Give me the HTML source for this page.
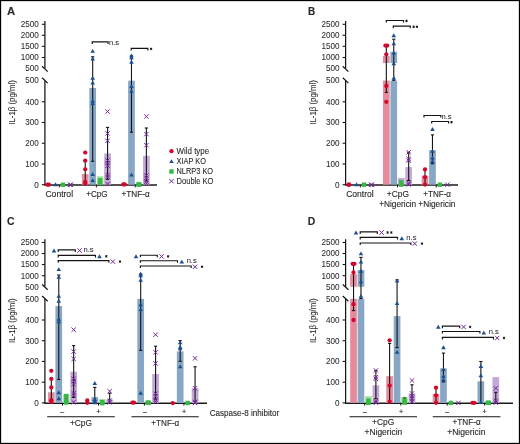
<!DOCTYPE html><html><head><meta charset="utf-8"><style>
html,body{margin:0;padding:0;background:#fff;}
svg{display:block;will-change:transform;font-family:"Liberation Sans",sans-serif;}
text{fill:#2a2a2a;stroke:#2a2a2a;stroke-width:0.12px;}
</style></head><body>
<svg width="520" height="444" viewBox="0 0 520 444">
<rect x="0" y="0" width="520" height="444" fill="#fff"/>
<text x="7.00" y="14.70" font-size="10.4" font-weight="bold" fill="#000" stroke="#000" stroke-width="0.35" transform="translate(7.00 0) scale(1.08 1) translate(-7.00 0)">A</text>
<path d="M44.90,21.00V68.40" stroke="#141414" stroke-width="1.25"/>
<path d="M44.90,80.80V184.90" stroke="#141414" stroke-width="1.25" fill="none"/>
<path d="M44.30,185.00H157.00" stroke="#1a1a1a" stroke-width="1.45" fill="none"/>
<path d="M42.10,66.30L47.70,71.60M42.10,77.80L47.70,83.10" stroke="#141414" stroke-width="1.2"/>
<path d="M41.90,24.30H44.90" stroke="#141414" stroke-width="1.1"/>
<text x="38.80" y="27.30" font-size="9.3" text-anchor="end" style="stroke-width:0.06px" transform="translate(38.80 0) scale(0.875 1) translate(-38.80 0)">2500</text>
<path d="M41.90,35.30H44.90" stroke="#141414" stroke-width="1.1"/>
<text x="38.80" y="38.30" font-size="9.3" text-anchor="end" style="stroke-width:0.06px" transform="translate(38.80 0) scale(0.875 1) translate(-38.80 0)">2000</text>
<path d="M41.90,46.30H44.90" stroke="#141414" stroke-width="1.1"/>
<text x="38.80" y="49.30" font-size="9.3" text-anchor="end" style="stroke-width:0.06px" transform="translate(38.80 0) scale(0.875 1) translate(-38.80 0)">1500</text>
<path d="M41.90,57.50H44.90" stroke="#141414" stroke-width="1.1"/>
<text x="38.80" y="60.50" font-size="9.3" text-anchor="end" style="stroke-width:0.06px" transform="translate(38.80 0) scale(0.875 1) translate(-38.80 0)">1000</text>
<text x="38.80" y="71.40" font-size="9.3" text-anchor="end" style="stroke-width:0.06px" transform="translate(38.80 0) scale(0.875 1) translate(-38.80 0)">500</text>
<text x="38.80" y="83.40" font-size="9.3" text-anchor="end" style="stroke-width:0.06px" transform="translate(38.80 0) scale(0.875 1) translate(-38.80 0)">500</text>
<path d="M41.90,101.80H44.90" stroke="#141414" stroke-width="1.1"/>
<text x="38.80" y="104.80" font-size="9.3" text-anchor="end" style="stroke-width:0.06px" transform="translate(38.80 0) scale(0.875 1) translate(-38.80 0)">400</text>
<path d="M41.90,122.50H44.90" stroke="#141414" stroke-width="1.1"/>
<text x="38.80" y="125.50" font-size="9.3" text-anchor="end" style="stroke-width:0.06px" transform="translate(38.80 0) scale(0.875 1) translate(-38.80 0)">300</text>
<path d="M41.90,143.25H44.90" stroke="#141414" stroke-width="1.1"/>
<text x="38.80" y="146.25" font-size="9.3" text-anchor="end" style="stroke-width:0.06px" transform="translate(38.80 0) scale(0.875 1) translate(-38.80 0)">200</text>
<path d="M41.90,164.00H44.90" stroke="#141414" stroke-width="1.1"/>
<text x="38.80" y="167.00" font-size="9.3" text-anchor="end" style="stroke-width:0.06px" transform="translate(38.80 0) scale(0.875 1) translate(-38.80 0)">100</text>
<path d="M41.90,184.70H44.90" stroke="#141414" stroke-width="1.1"/>
<text x="38.80" y="187.70" font-size="9.3" text-anchor="end" style="stroke-width:0.06px" transform="translate(38.80 0) scale(0.875 1) translate(-38.80 0)">0</text>
<text x="-6.80" y="102.40" font-size="8.3" textLength="44.6" lengthAdjust="spacingAndGlyphs" style="stroke-width:0.08px" transform="rotate(-90 15.50 102.40)">IL-1β (pg/ml)</text>
<circle cx="47.33" cy="184.70" r="2.15" fill="#d3062c"/>
<circle cx="48.92" cy="184.70" r="2.15" fill="#d3062c"/>
<path d="M53.27,186.25L55.57,182.35L57.87,186.25Z" fill="#1b4f8e"/>
<rect x="60.82" y="182.50" width="4.4" height="4.4" fill="#35b844"/>
<path d="M67.82,182.60L72.22,187.00M72.22,182.60L67.82,187.00" stroke="#722896" stroke-width="1.0" fill="none"/>
<path d="M68.72,182.60L73.12,187.00M73.12,182.60L68.72,187.00" stroke="#722896" stroke-width="1.0" fill="none"/>
<rect x="81.88" y="174.10" width="6.7" height="10.60" fill="#e68b9d"/>
<rect x="89.33" y="87.90" width="6.7" height="96.80" fill="#87a7c5"/>
<rect x="96.78" y="176.20" width="6.7" height="8.50" fill="#a9e2a6"/>
<rect x="104.23" y="153.50" width="6.7" height="31.20" fill="#c4a9d6"/>
<path d="M85.23,160.70V184.70" stroke="#141414" stroke-width="1.1"/>
<path d="M83.63,160.70H86.83" stroke="#141414" stroke-width="1.1"/>
<circle cx="85.23" cy="152.60" r="2.15" fill="#d3062c"/>
<circle cx="85.23" cy="160.70" r="2.15" fill="#d3062c"/>
<circle cx="85.23" cy="169.30" r="2.15" fill="#d3062c"/>
<circle cx="85.23" cy="182.00" r="2.15" fill="#d3062c"/>
<circle cx="85.23" cy="183.70" r="2.15" fill="#d3062c"/>
<path d="M92.68,56.80V161.30" stroke="#141414" stroke-width="1.1"/>
<path d="M91.08,56.80H94.28" stroke="#141414" stroke-width="1.1"/>
<path d="M91.08,161.30H94.28" stroke="#141414" stroke-width="1.1"/>
<path d="M90.38,52.85L92.68,48.95L94.98,52.85Z" fill="#1b4f8e"/>
<path d="M90.38,60.45L92.68,56.55L94.98,60.45Z" fill="#1b4f8e"/>
<path d="M90.38,79.65L92.68,75.75L94.98,79.65Z" fill="#1b4f8e"/>
<path d="M90.38,84.45L92.68,80.55L94.98,84.45Z" fill="#1b4f8e"/>
<path d="M90.38,102.55L92.68,98.65L94.98,102.55Z" fill="#1b4f8e"/>
<path d="M90.38,104.95L92.68,101.05L94.98,104.95Z" fill="#1b4f8e"/>
<path d="M90.38,175.95L92.68,172.05L94.98,175.95Z" fill="#1b4f8e"/>
<path d="M90.38,182.05L92.68,178.15L94.98,182.05Z" fill="#1b4f8e"/>
<rect x="97.92" y="178.10" width="4.4" height="4.4" fill="#35b844"/>
<rect x="97.92" y="180.40" width="4.4" height="4.4" fill="#35b844"/>
<path d="M107.58,127.40V179.30" stroke="#141414" stroke-width="1.1"/>
<path d="M105.98,127.40H109.17" stroke="#141414" stroke-width="1.1"/>
<path d="M105.98,179.30H109.17" stroke="#141414" stroke-width="1.1"/>
<path d="M105.38,109.30L109.78,113.70M109.78,109.30L105.38,113.70" stroke="#722896" stroke-width="1.0" fill="none"/>
<path d="M105.38,131.20L109.78,135.60M109.78,131.20L105.38,135.60" stroke="#722896" stroke-width="1.0" fill="none"/>
<path d="M105.38,138.60L109.78,143.00M109.78,138.60L105.38,143.00" stroke="#722896" stroke-width="1.0" fill="none"/>
<path d="M105.38,158.30L109.78,162.70M109.78,158.30L105.38,162.70" stroke="#722896" stroke-width="1.0" fill="none"/>
<path d="M105.38,160.80L109.78,165.20M109.78,160.80L105.38,165.20" stroke="#722896" stroke-width="1.0" fill="none"/>
<path d="M105.38,163.60L109.78,168.00M109.78,163.60L105.38,168.00" stroke="#722896" stroke-width="1.0" fill="none"/>
<path d="M105.38,172.80L109.78,177.20M109.78,172.80L105.38,177.20" stroke="#722896" stroke-width="1.0" fill="none"/>
<path d="M105.38,174.80L109.78,179.20M109.78,174.80L105.38,179.20" stroke="#722896" stroke-width="1.0" fill="none"/>
<path d="M105.38,181.80L109.78,186.20M109.78,181.80L105.38,186.20" stroke="#722896" stroke-width="1.0" fill="none"/>
<rect x="128.12" y="80.70" width="6.7" height="104.00" fill="#87a7c5"/>
<rect x="143.03" y="155.80" width="6.7" height="28.90" fill="#c4a9d6"/>
<circle cx="123.27" cy="184.40" r="2.15" fill="#d3062c"/>
<circle cx="124.77" cy="184.40" r="2.15" fill="#d3062c"/>
<path d="M131.47,55.80V132.20" stroke="#141414" stroke-width="1.1"/>
<path d="M129.88,55.80H133.07" stroke="#141414" stroke-width="1.1"/>
<path d="M129.88,132.20H133.07" stroke="#141414" stroke-width="1.1"/>
<path d="M129.17,57.35L131.47,53.45L133.78,57.35Z" fill="#1b4f8e"/>
<path d="M129.17,59.15L131.47,55.25L133.78,59.15Z" fill="#1b4f8e"/>
<path d="M129.17,63.65L131.47,59.75L133.78,63.65Z" fill="#1b4f8e"/>
<path d="M129.17,88.05L131.47,84.15L133.78,88.05Z" fill="#1b4f8e"/>
<path d="M129.17,92.85L131.47,88.95L133.78,92.85Z" fill="#1b4f8e"/>
<path d="M129.17,176.45L131.47,172.55L133.78,176.45Z" fill="#1b4f8e"/>
<rect x="136.22" y="182.30" width="4.4" height="4.4" fill="#35b844"/>
<rect x="137.22" y="182.30" width="4.4" height="4.4" fill="#35b844"/>
<path d="M146.38,128.00V181.00" stroke="#141414" stroke-width="1.1"/>
<path d="M144.78,128.00H147.97" stroke="#141414" stroke-width="1.1"/>
<path d="M144.78,181.00H147.97" stroke="#141414" stroke-width="1.1"/>
<path d="M144.18,114.30L148.57,118.70M148.57,114.30L144.18,118.70" stroke="#722896" stroke-width="1.0" fill="none"/>
<path d="M144.18,131.90L148.57,136.30M148.57,131.90L144.18,136.30" stroke="#722896" stroke-width="1.0" fill="none"/>
<path d="M144.18,143.00L148.57,147.40M148.57,143.00L144.18,147.40" stroke="#722896" stroke-width="1.0" fill="none"/>
<path d="M144.18,173.30L148.57,177.70M148.57,173.30L144.18,177.70" stroke="#722896" stroke-width="1.0" fill="none"/>
<path d="M144.18,175.60L148.57,180.00M148.57,175.60L144.18,180.00" stroke="#722896" stroke-width="1.0" fill="none"/>
<path d="M144.18,179.40L148.57,183.80M148.57,179.40L144.18,183.80" stroke="#722896" stroke-width="1.0" fill="none"/>
<path d="M144.18,181.30L148.57,185.70M148.57,181.30L144.18,185.70" stroke="#722896" stroke-width="1.0" fill="none"/>
<path d="M59.30,185.20V187.40" stroke="#141414" stroke-width="1.0"/>
<path d="M96.40,185.20V187.40" stroke="#141414" stroke-width="1.0"/>
<path d="M135.20,185.20V187.40" stroke="#141414" stroke-width="1.0"/>
<text x="45.45" y="197.30" font-size="8.4" textLength="27.60" lengthAdjust="spacingAndGlyphs" >Control</text>
<text x="86.15" y="197.00" font-size="8.2" textLength="21.60" lengthAdjust="spacingAndGlyphs" >+CpG</text>
<text x="121.45" y="197.00" font-size="8.2" textLength="28.20" lengthAdjust="spacingAndGlyphs" >+TNF-α</text>
<path d="M92.20,43.90V41.80H108.10V43.90" stroke="#141414" stroke-width="1.15" fill="none"/>
<text x="109.05" y="44.60" font-size="7.3" textLength="10.10" lengthAdjust="spacingAndGlyphs" style="stroke-width:0.05px">n.s</text>
<path d="M131.20,50.50V48.40H147.90V50.50" stroke="#141414" stroke-width="1.15" fill="none"/>
<path d="M151.10,47.65L151.10,50.15M152.18,48.27L150.02,49.52M152.18,49.52L150.02,48.27" stroke="#141414" stroke-width="0.95" fill="none"/>
<circle cx="171.50" cy="151.20" r="2.15" fill="#d3062c"/>
<path d="M169.20,163.05L171.50,159.15L173.80,163.05Z" fill="#1b4f8e"/>
<rect x="169.30" y="169.30" width="4.4" height="4.4" fill="#35b844"/>
<path d="M169.30,179.00L173.70,183.40M173.70,179.00L169.30,183.40" stroke="#722896" stroke-width="1.0" fill="none"/>
<text x="176.55" y="153.95" font-size="9.0" textLength="32.60" lengthAdjust="spacingAndGlyphs" style="stroke-width:0.1px">Wild type</text>
<text x="176.55" y="164.25" font-size="9.0" textLength="29.40" lengthAdjust="spacingAndGlyphs" style="stroke-width:0.1px">XIAP KO</text>
<text x="176.55" y="174.25" font-size="9.0" textLength="36.50" lengthAdjust="spacingAndGlyphs" style="stroke-width:0.1px">NLRP3 KO</text>
<text x="176.55" y="183.95" font-size="9.0" textLength="36.90" lengthAdjust="spacingAndGlyphs" style="stroke-width:0.1px">Double KO</text>
<text x="307.90" y="14.70" font-size="10.4" font-weight="bold" fill="#000" stroke="#000" stroke-width="0.35" transform="translate(307.90 0) scale(0.96 1) translate(-307.90 0)">B</text>
<path d="M345.60,21.00V68.40" stroke="#141414" stroke-width="1.25"/>
<path d="M345.60,80.80V184.90" stroke="#141414" stroke-width="1.25" fill="none"/>
<path d="M345.00,185.00H458.00" stroke="#1a1a1a" stroke-width="1.45" fill="none"/>
<path d="M342.80,66.30L348.40,71.60M342.80,77.80L348.40,83.10" stroke="#141414" stroke-width="1.2"/>
<path d="M342.60,24.30H345.60" stroke="#141414" stroke-width="1.1"/>
<text x="339.50" y="27.30" font-size="9.3" text-anchor="end" style="stroke-width:0.06px" transform="translate(339.50 0) scale(0.875 1) translate(-339.50 0)">2500</text>
<path d="M342.60,35.30H345.60" stroke="#141414" stroke-width="1.1"/>
<text x="339.50" y="38.30" font-size="9.3" text-anchor="end" style="stroke-width:0.06px" transform="translate(339.50 0) scale(0.875 1) translate(-339.50 0)">2000</text>
<path d="M342.60,46.30H345.60" stroke="#141414" stroke-width="1.1"/>
<text x="339.50" y="49.30" font-size="9.3" text-anchor="end" style="stroke-width:0.06px" transform="translate(339.50 0) scale(0.875 1) translate(-339.50 0)">1500</text>
<path d="M342.60,57.50H345.60" stroke="#141414" stroke-width="1.1"/>
<text x="339.50" y="60.50" font-size="9.3" text-anchor="end" style="stroke-width:0.06px" transform="translate(339.50 0) scale(0.875 1) translate(-339.50 0)">1000</text>
<text x="339.50" y="71.40" font-size="9.3" text-anchor="end" style="stroke-width:0.06px" transform="translate(339.50 0) scale(0.875 1) translate(-339.50 0)">500</text>
<text x="339.50" y="83.40" font-size="9.3" text-anchor="end" style="stroke-width:0.06px" transform="translate(339.50 0) scale(0.875 1) translate(-339.50 0)">500</text>
<path d="M342.60,101.80H345.60" stroke="#141414" stroke-width="1.1"/>
<text x="339.50" y="104.80" font-size="9.3" text-anchor="end" style="stroke-width:0.06px" transform="translate(339.50 0) scale(0.875 1) translate(-339.50 0)">400</text>
<path d="M342.60,122.50H345.60" stroke="#141414" stroke-width="1.1"/>
<text x="339.50" y="125.50" font-size="9.3" text-anchor="end" style="stroke-width:0.06px" transform="translate(339.50 0) scale(0.875 1) translate(-339.50 0)">300</text>
<path d="M342.60,143.25H345.60" stroke="#141414" stroke-width="1.1"/>
<text x="339.50" y="146.25" font-size="9.3" text-anchor="end" style="stroke-width:0.06px" transform="translate(339.50 0) scale(0.875 1) translate(-339.50 0)">200</text>
<path d="M342.60,164.00H345.60" stroke="#141414" stroke-width="1.1"/>
<text x="339.50" y="167.00" font-size="9.3" text-anchor="end" style="stroke-width:0.06px" transform="translate(339.50 0) scale(0.875 1) translate(-339.50 0)">100</text>
<path d="M342.60,184.70H345.60" stroke="#141414" stroke-width="1.1"/>
<text x="339.50" y="187.70" font-size="9.3" text-anchor="end" style="stroke-width:0.06px" transform="translate(339.50 0) scale(0.875 1) translate(-339.50 0)">0</text>
<text x="293.90" y="102.40" font-size="8.3" textLength="44.6" lengthAdjust="spacingAndGlyphs" style="stroke-width:0.08px" transform="rotate(-90 316.20 102.40)">IL-1β (pg/ml)</text>
<circle cx="348.82" cy="184.70" r="2.4" fill="#d3062c"/>
<path d="M354.27,186.25L356.57,182.35L358.88,186.25Z" fill="#1b4f8e"/>
<rect x="361.83" y="182.50" width="4.4" height="4.4" fill="#35b844"/>
<path d="M368.83,182.60L373.23,187.00M373.23,182.60L368.83,187.00" stroke="#722896" stroke-width="1.0" fill="none"/>
<path d="M369.73,182.60L374.12,187.00M374.12,182.60L369.73,187.00" stroke="#722896" stroke-width="1.0" fill="none"/>
<rect x="382.97" y="56.00" width="6.7" height="7.00" fill="#e68b9d"/>
<rect x="382.97" y="80.60" width="6.7" height="104.10" fill="#e68b9d"/>
<rect x="390.42" y="51.80" width="6.7" height="11.20" fill="#87a7c5"/>
<rect x="390.42" y="80.60" width="6.7" height="104.10" fill="#87a7c5"/>
<rect x="397.88" y="178.00" width="6.7" height="6.70" fill="#c4a9d6"/>
<rect x="405.32" y="167.10" width="6.7" height="17.60" fill="#c4a9d6"/>
<path d="M386.32,45.50V92.40" stroke="#141414" stroke-width="1.1"/>
<path d="M384.72,92.40H387.93" stroke="#141414" stroke-width="1.1"/>
<circle cx="385.43" cy="45.60" r="2.15" fill="#d3062c"/>
<circle cx="387.22" cy="45.60" r="2.15" fill="#d3062c"/>
<circle cx="386.32" cy="54.30" r="2.15" fill="#d3062c"/>
<circle cx="386.32" cy="86.00" r="2.15" fill="#d3062c"/>
<circle cx="386.32" cy="101.80" r="2.15" fill="#d3062c"/>
<path d="M393.77,39.20V80.30" stroke="#141414" stroke-width="1.1"/>
<path d="M392.17,39.20H395.38" stroke="#141414" stroke-width="1.1"/>
<path d="M392.17,80.30H395.38" stroke="#141414" stroke-width="1.1"/>
<path d="M391.47,37.15L393.77,33.25L396.07,37.15Z" fill="#1b4f8e"/>
<path d="M391.47,45.35L393.77,41.45L396.07,45.35Z" fill="#1b4f8e"/>
<path d="M391.47,54.55L393.77,50.65L396.07,54.55Z" fill="#1b4f8e"/>
<path d="M391.47,65.15L393.77,61.25L396.07,65.15Z" fill="#1b4f8e"/>
<path d="M391.47,79.65L393.77,75.75L396.07,79.65Z" fill="#1b4f8e"/>
<rect x="399.03" y="180.20" width="4.4" height="4.4" fill="#35b844"/>
<rect x="399.03" y="182.40" width="4.4" height="4.4" fill="#35b844"/>
<path d="M408.68,152.30V180.50" stroke="#141414" stroke-width="1.1"/>
<path d="M407.07,152.30H410.28" stroke="#141414" stroke-width="1.1"/>
<path d="M407.07,180.50H410.28" stroke="#141414" stroke-width="1.1"/>
<path d="M406.48,150.10L410.88,154.50M410.88,150.10L406.48,154.50" stroke="#722896" stroke-width="1.0" fill="none"/>
<path d="M406.48,156.80L410.88,161.20M410.88,156.80L406.48,161.20" stroke="#722896" stroke-width="1.0" fill="none"/>
<path d="M406.48,158.40L410.88,162.80M410.88,158.40L406.48,162.80" stroke="#722896" stroke-width="1.0" fill="none"/>
<path d="M406.48,180.80L410.88,185.20M410.88,180.80L406.48,185.20" stroke="#722896" stroke-width="1.0" fill="none"/>
<path d="M406.48,182.30L410.88,186.70M410.88,182.30L406.48,186.70" stroke="#722896" stroke-width="1.0" fill="none"/>
<rect x="421.67" y="175.80" width="6.7" height="8.90" fill="#e68b9d"/>
<rect x="429.12" y="150.10" width="6.7" height="34.60" fill="#87a7c5"/>
<path d="M425.02,169.50V184.70" stroke="#141414" stroke-width="1.1"/>
<path d="M423.42,169.50H426.62" stroke="#141414" stroke-width="1.1"/>
<circle cx="425.02" cy="169.50" r="2.15" fill="#d3062c"/>
<circle cx="425.02" cy="177.20" r="2.15" fill="#d3062c"/>
<circle cx="425.02" cy="184.60" r="2.15" fill="#d3062c"/>
<path d="M432.47,134.90V163.70" stroke="#141414" stroke-width="1.1"/>
<path d="M430.87,134.90H434.07" stroke="#141414" stroke-width="1.1"/>
<path d="M430.87,163.70H434.07" stroke="#141414" stroke-width="1.1"/>
<path d="M430.17,130.95L432.47,127.05L434.77,130.95Z" fill="#1b4f8e"/>
<path d="M430.17,152.85L432.47,148.95L434.77,152.85Z" fill="#1b4f8e"/>
<path d="M430.17,159.55L432.47,155.65L434.77,159.55Z" fill="#1b4f8e"/>
<path d="M430.17,162.95L432.47,159.05L434.77,162.95Z" fill="#1b4f8e"/>
<rect x="437.73" y="182.50" width="4.4" height="4.4" fill="#35b844"/>
<path d="M445.18,182.50L449.57,186.90M449.57,182.50L445.18,186.90" stroke="#722896" stroke-width="1.0" fill="none"/>
<path d="M360.30,185.20V187.40" stroke="#141414" stroke-width="1.0"/>
<path d="M397.50,185.20V187.40" stroke="#141414" stroke-width="1.0"/>
<path d="M436.20,185.20V187.40" stroke="#141414" stroke-width="1.0"/>
<text x="346.15" y="197.30" font-size="8.4" textLength="27.50" lengthAdjust="spacingAndGlyphs" >Control</text>
<text x="386.85" y="197.10" font-size="8.2" textLength="22.10" lengthAdjust="spacingAndGlyphs" >+CpG</text>
<text x="379.15" y="206.80" font-size="8.2" textLength="37.10" lengthAdjust="spacingAndGlyphs" >+Nigericin</text>
<text x="423.25" y="197.10" font-size="8.2" textLength="27.80" lengthAdjust="spacingAndGlyphs" >+TNF-α</text>
<text x="418.35" y="206.80" font-size="8.2" textLength="37.10" lengthAdjust="spacingAndGlyphs" >+Nigericin</text>
<path d="M386.30,22.60V20.50H403.50V22.60" stroke="#141414" stroke-width="1.15" fill="none"/>
<path d="M406.50,19.65L406.50,22.15M407.58,20.27L405.42,21.52M407.58,21.52L405.42,20.27" stroke="#141414" stroke-width="0.95" fill="none"/>
<path d="M393.30,28.20V26.10H410.30V28.20" stroke="#141414" stroke-width="1.15" fill="none"/>
<path d="M413.60,25.55L413.60,28.05M414.68,26.18L412.52,27.43M414.68,27.43L412.52,26.18" stroke="#141414" stroke-width="0.95" fill="none"/>
<path d="M416.90,25.55L416.90,28.05M417.98,26.18L415.82,27.43M417.98,27.43L415.82,26.18" stroke="#141414" stroke-width="0.95" fill="none"/>
<path d="M424.00,117.60V115.50H440.80V117.60" stroke="#141414" stroke-width="1.15" fill="none"/>
<text x="441.45" y="118.50" font-size="7.3" textLength="10.10" lengthAdjust="spacingAndGlyphs" style="stroke-width:0.05px">n.s</text>
<path d="M431.70,123.60V121.50H448.60V123.60" stroke="#141414" stroke-width="1.15" fill="none"/>
<path d="M451.50,120.95L451.50,123.45M452.58,121.58L450.42,122.83M452.58,122.83L450.42,121.58" stroke="#141414" stroke-width="0.95" fill="none"/>
<text x="6.90" y="225.20" font-size="10.4" font-weight="bold" fill="#000" stroke="#000" stroke-width="0.35" transform="translate(6.90 0) scale(1.0 1) translate(-6.90 0)">C</text>
<path d="M44.90,239.20V286.60" stroke="#141414" stroke-width="1.25"/>
<path d="M44.90,299.00V403.10" stroke="#141414" stroke-width="1.25" fill="none"/>
<path d="M44.30,403.20H207.00" stroke="#1a1a1a" stroke-width="1.45" fill="none"/>
<path d="M42.10,284.50L47.70,289.80M42.10,296.00L47.70,301.30" stroke="#141414" stroke-width="1.2"/>
<path d="M41.90,242.50H44.90" stroke="#141414" stroke-width="1.1"/>
<text x="38.80" y="245.50" font-size="9.3" text-anchor="end" style="stroke-width:0.06px" transform="translate(38.80 0) scale(0.875 1) translate(-38.80 0)">2500</text>
<path d="M41.90,253.50H44.90" stroke="#141414" stroke-width="1.1"/>
<text x="38.80" y="256.50" font-size="9.3" text-anchor="end" style="stroke-width:0.06px" transform="translate(38.80 0) scale(0.875 1) translate(-38.80 0)">2000</text>
<path d="M41.90,264.50H44.90" stroke="#141414" stroke-width="1.1"/>
<text x="38.80" y="267.50" font-size="9.3" text-anchor="end" style="stroke-width:0.06px" transform="translate(38.80 0) scale(0.875 1) translate(-38.80 0)">1500</text>
<path d="M41.90,275.70H44.90" stroke="#141414" stroke-width="1.1"/>
<text x="38.80" y="278.70" font-size="9.3" text-anchor="end" style="stroke-width:0.06px" transform="translate(38.80 0) scale(0.875 1) translate(-38.80 0)">1000</text>
<text x="38.80" y="289.60" font-size="9.3" text-anchor="end" style="stroke-width:0.06px" transform="translate(38.80 0) scale(0.875 1) translate(-38.80 0)">500</text>
<text x="38.80" y="301.60" font-size="9.3" text-anchor="end" style="stroke-width:0.06px" transform="translate(38.80 0) scale(0.875 1) translate(-38.80 0)">500</text>
<path d="M41.90,320.00H44.90" stroke="#141414" stroke-width="1.1"/>
<text x="38.80" y="323.00" font-size="9.3" text-anchor="end" style="stroke-width:0.06px" transform="translate(38.80 0) scale(0.875 1) translate(-38.80 0)">400</text>
<path d="M41.90,340.70H44.90" stroke="#141414" stroke-width="1.1"/>
<text x="38.80" y="343.70" font-size="9.3" text-anchor="end" style="stroke-width:0.06px" transform="translate(38.80 0) scale(0.875 1) translate(-38.80 0)">300</text>
<path d="M41.90,361.45H44.90" stroke="#141414" stroke-width="1.1"/>
<text x="38.80" y="364.45" font-size="9.3" text-anchor="end" style="stroke-width:0.06px" transform="translate(38.80 0) scale(0.875 1) translate(-38.80 0)">200</text>
<path d="M41.90,382.20H44.90" stroke="#141414" stroke-width="1.1"/>
<text x="38.80" y="385.20" font-size="9.3" text-anchor="end" style="stroke-width:0.06px" transform="translate(38.80 0) scale(0.875 1) translate(-38.80 0)">100</text>
<path d="M41.90,402.90H44.90" stroke="#141414" stroke-width="1.1"/>
<text x="38.80" y="405.90" font-size="9.3" text-anchor="end" style="stroke-width:0.06px" transform="translate(38.80 0) scale(0.875 1) translate(-38.80 0)">0</text>
<text x="-6.80" y="320.60" font-size="8.3" textLength="44.6" lengthAdjust="spacingAndGlyphs" style="stroke-width:0.08px" transform="rotate(-90 15.50 320.60)">IL-1β (pg/ml)</text>
<rect x="47.98" y="392.30" width="6.7" height="10.60" fill="#e68b9d"/>
<rect x="55.42" y="306.10" width="6.7" height="96.80" fill="#87a7c5"/>
<rect x="62.87" y="394.40" width="6.7" height="8.50" fill="#a9e2a6"/>
<rect x="70.33" y="371.70" width="6.7" height="31.20" fill="#c4a9d6"/>
<path d="M51.33,378.90V402.90" stroke="#141414" stroke-width="1.1"/>
<path d="M49.73,378.90H52.93" stroke="#141414" stroke-width="1.1"/>
<circle cx="51.33" cy="370.80" r="2.15" fill="#d3062c"/>
<circle cx="51.33" cy="378.90" r="2.15" fill="#d3062c"/>
<circle cx="51.33" cy="387.50" r="2.15" fill="#d3062c"/>
<circle cx="51.33" cy="400.20" r="2.15" fill="#d3062c"/>
<circle cx="51.33" cy="401.90" r="2.15" fill="#d3062c"/>
<path d="M58.77,275.00V379.50" stroke="#141414" stroke-width="1.1"/>
<path d="M57.17,275.00H60.38" stroke="#141414" stroke-width="1.1"/>
<path d="M57.17,379.50H60.38" stroke="#141414" stroke-width="1.1"/>
<path d="M56.48,271.05L58.77,267.15L61.07,271.05Z" fill="#1b4f8e"/>
<path d="M56.48,278.65L58.77,274.75L61.07,278.65Z" fill="#1b4f8e"/>
<path d="M56.48,297.85L58.77,293.95L61.07,297.85Z" fill="#1b4f8e"/>
<path d="M56.48,302.65L58.77,298.75L61.07,302.65Z" fill="#1b4f8e"/>
<path d="M56.48,320.75L58.77,316.85L61.07,320.75Z" fill="#1b4f8e"/>
<path d="M56.48,323.15L58.77,319.25L61.07,323.15Z" fill="#1b4f8e"/>
<path d="M56.48,394.15L58.77,390.25L61.07,394.15Z" fill="#1b4f8e"/>
<path d="M56.48,400.25L58.77,396.35L61.07,400.25Z" fill="#1b4f8e"/>
<path d="M66.22,399.00V402.90" stroke="#141414" stroke-width="1.1"/>
<path d="M64.62,399.00H67.82" stroke="#141414" stroke-width="1.1"/>
<rect x="64.02" y="393.80" width="4.4" height="4.4" fill="#35b844"/>
<rect x="64.02" y="399.00" width="4.4" height="4.4" fill="#35b844"/>
<rect x="64.02" y="400.30" width="4.4" height="4.4" fill="#35b844"/>
<path d="M73.67,345.60V397.50" stroke="#141414" stroke-width="1.1"/>
<path d="M72.08,345.60H75.27" stroke="#141414" stroke-width="1.1"/>
<path d="M72.08,397.50H75.27" stroke="#141414" stroke-width="1.1"/>
<path d="M71.47,327.50L75.88,331.90M75.88,327.50L71.47,331.90" stroke="#722896" stroke-width="1.0" fill="none"/>
<path d="M71.47,349.40L75.88,353.80M75.88,349.40L71.47,353.80" stroke="#722896" stroke-width="1.0" fill="none"/>
<path d="M71.47,356.80L75.88,361.20M75.88,356.80L71.47,361.20" stroke="#722896" stroke-width="1.0" fill="none"/>
<path d="M71.47,376.50L75.88,380.90M75.88,376.50L71.47,380.90" stroke="#722896" stroke-width="1.0" fill="none"/>
<path d="M71.47,379.00L75.88,383.40M75.88,379.00L71.47,383.40" stroke="#722896" stroke-width="1.0" fill="none"/>
<path d="M71.47,381.80L75.88,386.20M75.88,381.80L71.47,386.20" stroke="#722896" stroke-width="1.0" fill="none"/>
<path d="M71.47,391.00L75.88,395.40M75.88,391.00L71.47,395.40" stroke="#722896" stroke-width="1.0" fill="none"/>
<path d="M71.47,393.00L75.88,397.40M75.88,393.00L71.47,397.40" stroke="#722896" stroke-width="1.0" fill="none"/>
<path d="M71.47,400.00L75.88,404.40M75.88,400.00L71.47,404.40" stroke="#722896" stroke-width="1.0" fill="none"/>
<rect x="91.43" y="397.10" width="6.7" height="5.90" fill="#87a7c5"/>
<rect x="98.88" y="399.00" width="6.7" height="4.00" fill="#a9e2a6"/>
<rect x="106.33" y="399.60" width="6.7" height="3.40" fill="#c4a9d6"/>
<circle cx="87.33" cy="400.40" r="2.15" fill="#d3062c"/>
<circle cx="87.33" cy="402.80" r="2.15" fill="#d3062c"/>
<path d="M94.78,387.40V403.00" stroke="#141414" stroke-width="1.1"/>
<path d="M93.18,387.40H96.38" stroke="#141414" stroke-width="1.1"/>
<path d="M92.48,384.95L94.78,381.05L97.08,384.95Z" fill="#1b4f8e"/>
<path d="M92.48,400.95L94.78,397.05L97.08,400.95Z" fill="#1b4f8e"/>
<path d="M92.48,402.75L94.78,398.85L97.08,402.75Z" fill="#1b4f8e"/>
<path d="M92.48,404.35L94.78,400.45L97.08,404.35Z" fill="#1b4f8e"/>
<rect x="100.02" y="400.00" width="4.4" height="4.4" fill="#35b844"/>
<rect x="100.02" y="401.00" width="4.4" height="4.4" fill="#35b844"/>
<path d="M109.67,393.10V403.00" stroke="#141414" stroke-width="1.1"/>
<path d="M108.08,393.10H111.27" stroke="#141414" stroke-width="1.1"/>
<path d="M107.47,389.00L111.88,393.40M111.88,389.00L107.47,393.40" stroke="#722896" stroke-width="1.0" fill="none"/>
<path d="M107.47,398.40L111.88,402.80M111.88,398.40L107.47,402.80" stroke="#722896" stroke-width="1.0" fill="none"/>
<path d="M107.47,400.00L111.88,404.40M111.88,400.00L107.47,404.40" stroke="#722896" stroke-width="1.0" fill="none"/>
<rect x="137.33" y="298.90" width="6.7" height="104.00" fill="#87a7c5"/>
<rect x="152.23" y="374.00" width="6.7" height="28.90" fill="#c4a9d6"/>
<circle cx="132.47" cy="402.60" r="2.15" fill="#d3062c"/>
<circle cx="133.97" cy="402.60" r="2.15" fill="#d3062c"/>
<path d="M140.68,274.00V350.40" stroke="#141414" stroke-width="1.1"/>
<path d="M139.08,274.00H142.28" stroke="#141414" stroke-width="1.1"/>
<path d="M139.08,350.40H142.28" stroke="#141414" stroke-width="1.1"/>
<path d="M138.38,275.55L140.68,271.65L142.98,275.55Z" fill="#1b4f8e"/>
<path d="M138.38,277.35L140.68,273.45L142.98,277.35Z" fill="#1b4f8e"/>
<path d="M138.38,281.85L140.68,277.95L142.98,281.85Z" fill="#1b4f8e"/>
<path d="M138.38,306.25L140.68,302.35L142.98,306.25Z" fill="#1b4f8e"/>
<path d="M138.38,311.05L140.68,307.15L142.98,311.05Z" fill="#1b4f8e"/>
<path d="M138.38,394.65L140.68,390.75L142.98,394.65Z" fill="#1b4f8e"/>
<rect x="145.43" y="400.50" width="4.4" height="4.4" fill="#35b844"/>
<rect x="146.43" y="400.50" width="4.4" height="4.4" fill="#35b844"/>
<path d="M155.58,346.20V399.20" stroke="#141414" stroke-width="1.1"/>
<path d="M153.98,346.20H157.18" stroke="#141414" stroke-width="1.1"/>
<path d="M153.98,399.20H157.18" stroke="#141414" stroke-width="1.1"/>
<path d="M153.38,332.50L157.78,336.90M157.78,332.50L153.38,336.90" stroke="#722896" stroke-width="1.0" fill="none"/>
<path d="M153.38,350.10L157.78,354.50M157.78,350.10L153.38,354.50" stroke="#722896" stroke-width="1.0" fill="none"/>
<path d="M153.38,361.20L157.78,365.60M157.78,361.20L153.38,365.60" stroke="#722896" stroke-width="1.0" fill="none"/>
<path d="M153.38,391.50L157.78,395.90M157.78,391.50L153.38,395.90" stroke="#722896" stroke-width="1.0" fill="none"/>
<path d="M153.38,393.80L157.78,398.20M157.78,393.80L153.38,398.20" stroke="#722896" stroke-width="1.0" fill="none"/>
<path d="M153.38,397.60L157.78,402.00M157.78,397.60L153.38,402.00" stroke="#722896" stroke-width="1.0" fill="none"/>
<path d="M153.38,399.50L157.78,403.90M157.78,399.50L153.38,403.90" stroke="#722896" stroke-width="1.0" fill="none"/>
<rect x="176.83" y="351.40" width="6.7" height="51.60" fill="#87a7c5"/>
<rect x="191.73" y="388.20" width="6.7" height="14.80" fill="#c4a9d6"/>
<circle cx="172.72" cy="403.10" r="2.15" fill="#d3062c"/>
<path d="M180.18,340.60V361.30" stroke="#141414" stroke-width="1.1"/>
<path d="M178.58,340.60H181.78" stroke="#141414" stroke-width="1.1"/>
<path d="M178.58,361.30H181.78" stroke="#141414" stroke-width="1.1"/>
<path d="M177.88,344.35L180.18,340.45L182.48,344.35Z" fill="#1b4f8e"/>
<path d="M177.88,348.65L180.18,344.75L182.48,348.65Z" fill="#1b4f8e"/>
<path d="M177.88,350.15L180.18,346.25L182.48,350.15Z" fill="#1b4f8e"/>
<path d="M177.88,368.35L180.18,364.45L182.48,368.35Z" fill="#1b4f8e"/>
<rect x="185.43" y="400.80" width="4.4" height="4.4" fill="#35b844"/>
<path d="M195.08,366.80V403.00" stroke="#141414" stroke-width="1.1"/>
<path d="M193.48,366.80H196.68" stroke="#141414" stroke-width="1.1"/>
<path d="M192.88,356.10L197.28,360.50M197.28,356.10L192.88,360.50" stroke="#722896" stroke-width="1.0" fill="none"/>
<path d="M192.88,386.00L197.28,390.40M197.28,386.00L192.88,390.40" stroke="#722896" stroke-width="1.0" fill="none"/>
<path d="M192.88,399.70L197.28,404.10M197.28,399.70L192.88,404.10" stroke="#722896" stroke-width="1.0" fill="none"/>
<path d="M192.88,400.80L197.28,405.20M197.28,400.80L192.88,405.20" stroke="#722896" stroke-width="1.0" fill="none"/>
<path d="M62.50,403.40V405.60" stroke="#141414" stroke-width="1.0"/>
<path d="M98.50,403.40V405.60" stroke="#141414" stroke-width="1.0"/>
<path d="M144.40,403.40V405.60" stroke="#141414" stroke-width="1.0"/>
<path d="M183.90,403.40V405.60" stroke="#141414" stroke-width="1.0"/>
<text x="62.40" y="414.70" font-size="8" text-anchor="middle" >−</text>
<text x="98.70" y="414.30" font-size="8" text-anchor="middle" >+</text>
<text x="145.00" y="414.70" font-size="8" text-anchor="middle" >−</text>
<text x="184.20" y="414.30" font-size="8" text-anchor="middle" >+</text>
<path d="M47.2,416.7H114.8M131.5,416.7H198.7" stroke="#141414" stroke-width="1.1"/>
<text x="69.95" y="425.70" font-size="8.2" textLength="22.00" lengthAdjust="spacingAndGlyphs" >+CpG</text>
<text x="151.25" y="425.70" font-size="8.2" textLength="28.10" lengthAdjust="spacingAndGlyphs" >+TNF-α</text>
<text x="209.75" y="415.50" font-size="8.2" textLength="69.40" lengthAdjust="spacingAndGlyphs" >Caspase-8 inhibitor</text>
<path d="M51.70,252.45L54.00,248.55L56.30,252.45Z" fill="#1b4f8e"/>
<path d="M58.20,251.90V249.80H75.30V251.90" stroke="#141414" stroke-width="1.15" fill="none"/>
<path d="M77.40,248.30L81.80,252.70M81.80,248.30L77.40,252.70" stroke="#722896" stroke-width="1.0" fill="none"/>
<text x="83.45" y="252.40" font-size="7.3" textLength="10.10" lengthAdjust="spacingAndGlyphs" style="stroke-width:0.05px">n.s</text>
<path d="M58.20,257.40V255.30H95.50V257.40" stroke="#141414" stroke-width="1.15" fill="none"/>
<path d="M97.20,258.25L99.50,254.35L101.80,258.25Z" fill="#1b4f8e"/>
<path d="M106.30,255.05L106.30,257.55M107.38,255.68L105.22,256.93M107.38,256.93L105.22,255.68" stroke="#141414" stroke-width="0.95" fill="none"/>
<path d="M58.20,262.70V260.60H108.90V262.70" stroke="#141414" stroke-width="1.15" fill="none"/>
<path d="M110.60,259.40L115.00,263.80M115.00,259.40L110.60,263.80" stroke="#722896" stroke-width="1.0" fill="none"/>
<path d="M120.00,260.35L120.00,262.85M121.08,260.98L118.92,262.23M121.08,262.23L118.92,260.98" stroke="#141414" stroke-width="0.95" fill="none"/>
<path d="M133.70,258.25L136.00,254.35L138.30,258.25Z" fill="#1b4f8e"/>
<path d="M140.40,257.30V255.20H157.30V257.30" stroke="#141414" stroke-width="1.15" fill="none"/>
<path d="M159.40,254.20L163.80,258.60M163.80,254.20L159.40,258.60" stroke="#722896" stroke-width="1.0" fill="none"/>
<path d="M168.10,255.15L168.10,257.65M169.18,255.77L167.02,257.02M169.18,257.02L167.02,255.77" stroke="#141414" stroke-width="0.95" fill="none"/>
<path d="M140.40,262.80V260.70H177.50V262.80" stroke="#141414" stroke-width="1.15" fill="none"/>
<path d="M179.50,263.55L181.80,259.65L184.10,263.55Z" fill="#1b4f8e"/>
<text x="186.65" y="263.00" font-size="7.3" textLength="10.10" lengthAdjust="spacingAndGlyphs" style="stroke-width:0.05px">n.s</text>
<path d="M140.40,268.10V266.00H191.20V268.10" stroke="#141414" stroke-width="1.15" fill="none"/>
<path d="M192.90,264.60L197.30,269.00M197.30,264.60L192.90,269.00" stroke="#722896" stroke-width="1.0" fill="none"/>
<path d="M202.00,265.55L202.00,268.05M203.08,266.18L200.92,267.43M203.08,267.43L200.92,266.18" stroke="#141414" stroke-width="0.95" fill="none"/>
<text x="307.80" y="225.20" font-size="10.4" font-weight="bold" fill="#000" stroke="#000" stroke-width="0.35" transform="translate(307.80 0) scale(1.0 1) translate(-307.80 0)">D</text>
<path d="M345.60,239.20V286.60" stroke="#141414" stroke-width="1.25"/>
<path d="M345.60,299.00V403.10" stroke="#141414" stroke-width="1.25" fill="none"/>
<path d="M345.00,403.20H513.00" stroke="#1a1a1a" stroke-width="1.45" fill="none"/>
<path d="M342.80,284.50L348.40,289.80M342.80,296.00L348.40,301.30" stroke="#141414" stroke-width="1.2"/>
<path d="M342.60,242.50H345.60" stroke="#141414" stroke-width="1.1"/>
<text x="339.50" y="245.50" font-size="9.3" text-anchor="end" style="stroke-width:0.06px" transform="translate(339.50 0) scale(0.875 1) translate(-339.50 0)">2500</text>
<path d="M342.60,253.50H345.60" stroke="#141414" stroke-width="1.1"/>
<text x="339.50" y="256.50" font-size="9.3" text-anchor="end" style="stroke-width:0.06px" transform="translate(339.50 0) scale(0.875 1) translate(-339.50 0)">2000</text>
<path d="M342.60,264.50H345.60" stroke="#141414" stroke-width="1.1"/>
<text x="339.50" y="267.50" font-size="9.3" text-anchor="end" style="stroke-width:0.06px" transform="translate(339.50 0) scale(0.875 1) translate(-339.50 0)">1500</text>
<path d="M342.60,275.70H345.60" stroke="#141414" stroke-width="1.1"/>
<text x="339.50" y="278.70" font-size="9.3" text-anchor="end" style="stroke-width:0.06px" transform="translate(339.50 0) scale(0.875 1) translate(-339.50 0)">1000</text>
<text x="339.50" y="289.60" font-size="9.3" text-anchor="end" style="stroke-width:0.06px" transform="translate(339.50 0) scale(0.875 1) translate(-339.50 0)">500</text>
<text x="339.50" y="301.60" font-size="9.3" text-anchor="end" style="stroke-width:0.06px" transform="translate(339.50 0) scale(0.875 1) translate(-339.50 0)">500</text>
<path d="M342.60,320.00H345.60" stroke="#141414" stroke-width="1.1"/>
<text x="339.50" y="323.00" font-size="9.3" text-anchor="end" style="stroke-width:0.06px" transform="translate(339.50 0) scale(0.875 1) translate(-339.50 0)">400</text>
<path d="M342.60,340.70H345.60" stroke="#141414" stroke-width="1.1"/>
<text x="339.50" y="343.70" font-size="9.3" text-anchor="end" style="stroke-width:0.06px" transform="translate(339.50 0) scale(0.875 1) translate(-339.50 0)">300</text>
<path d="M342.60,361.45H345.60" stroke="#141414" stroke-width="1.1"/>
<text x="339.50" y="364.45" font-size="9.3" text-anchor="end" style="stroke-width:0.06px" transform="translate(339.50 0) scale(0.875 1) translate(-339.50 0)">200</text>
<path d="M342.60,382.20H345.60" stroke="#141414" stroke-width="1.1"/>
<text x="339.50" y="385.20" font-size="9.3" text-anchor="end" style="stroke-width:0.06px" transform="translate(339.50 0) scale(0.875 1) translate(-339.50 0)">100</text>
<path d="M342.60,402.90H345.60" stroke="#141414" stroke-width="1.1"/>
<text x="339.50" y="405.90" font-size="9.3" text-anchor="end" style="stroke-width:0.06px" transform="translate(339.50 0) scale(0.875 1) translate(-339.50 0)">0</text>
<text x="293.90" y="320.60" font-size="8.3" textLength="44.6" lengthAdjust="spacingAndGlyphs" style="stroke-width:0.08px" transform="rotate(-90 316.20 320.60)">IL-1β (pg/ml)</text>
<rect x="350.17" y="274.20" width="6.7" height="12.60" fill="#e68b9d"/>
<rect x="350.17" y="298.80" width="6.7" height="104.10" fill="#e68b9d"/>
<rect x="357.62" y="270.00" width="6.7" height="16.80" fill="#87a7c5"/>
<rect x="357.62" y="298.80" width="6.7" height="104.10" fill="#87a7c5"/>
<rect x="365.07" y="396.20" width="6.7" height="6.70" fill="#a9e2a6"/>
<rect x="372.52" y="385.30" width="6.7" height="17.60" fill="#c4a9d6"/>
<path d="M353.52,263.70V310.60" stroke="#141414" stroke-width="1.1"/>
<path d="M351.92,310.60H355.12" stroke="#141414" stroke-width="1.1"/>
<circle cx="352.62" cy="263.80" r="2.15" fill="#d3062c"/>
<circle cx="354.42" cy="263.80" r="2.15" fill="#d3062c"/>
<circle cx="353.52" cy="272.50" r="2.15" fill="#d3062c"/>
<circle cx="353.52" cy="304.20" r="2.15" fill="#d3062c"/>
<circle cx="353.52" cy="320.00" r="2.15" fill="#d3062c"/>
<path d="M360.97,257.40V298.50" stroke="#141414" stroke-width="1.1"/>
<path d="M359.37,257.40H362.57" stroke="#141414" stroke-width="1.1"/>
<path d="M359.37,298.50H362.57" stroke="#141414" stroke-width="1.1"/>
<path d="M358.67,255.35L360.97,251.45L363.27,255.35Z" fill="#1b4f8e"/>
<path d="M358.67,263.55L360.97,259.65L363.27,263.55Z" fill="#1b4f8e"/>
<path d="M358.67,272.75L360.97,268.85L363.27,272.75Z" fill="#1b4f8e"/>
<path d="M358.67,283.35L360.97,279.45L363.27,283.35Z" fill="#1b4f8e"/>
<path d="M358.67,297.85L360.97,293.95L363.27,297.85Z" fill="#1b4f8e"/>
<rect x="366.23" y="398.40" width="4.4" height="4.4" fill="#35b844"/>
<rect x="366.23" y="400.60" width="4.4" height="4.4" fill="#35b844"/>
<path d="M375.88,370.50V398.70" stroke="#141414" stroke-width="1.1"/>
<path d="M374.27,370.50H377.48" stroke="#141414" stroke-width="1.1"/>
<path d="M374.27,398.70H377.48" stroke="#141414" stroke-width="1.1"/>
<path d="M373.68,368.30L378.07,372.70M378.07,368.30L373.68,372.70" stroke="#722896" stroke-width="1.0" fill="none"/>
<path d="M373.68,375.00L378.07,379.40M378.07,375.00L373.68,379.40" stroke="#722896" stroke-width="1.0" fill="none"/>
<path d="M373.68,376.60L378.07,381.00M378.07,376.60L373.68,381.00" stroke="#722896" stroke-width="1.0" fill="none"/>
<path d="M373.68,399.00L378.07,403.40M378.07,399.00L373.68,403.40" stroke="#722896" stroke-width="1.0" fill="none"/>
<path d="M373.68,400.50L378.07,404.90M378.07,400.50L373.68,404.90" stroke="#722896" stroke-width="1.0" fill="none"/>
<rect x="386.27" y="376.20" width="6.7" height="26.80" fill="#e68b9d"/>
<rect x="393.72" y="316.10" width="6.7" height="86.90" fill="#87a7c5"/>
<rect x="401.18" y="396.80" width="6.7" height="6.20" fill="#a9e2a6"/>
<rect x="408.62" y="393.80" width="6.7" height="9.20" fill="#c4a9d6"/>
<path d="M389.62,343.40V403.00" stroke="#141414" stroke-width="1.1"/>
<path d="M388.02,343.40H391.23" stroke="#141414" stroke-width="1.1"/>
<circle cx="389.62" cy="340.30" r="2.15" fill="#d3062c"/>
<circle cx="389.62" cy="385.70" r="2.15" fill="#d3062c"/>
<circle cx="389.62" cy="401.60" r="2.15" fill="#d3062c"/>
<path d="M397.07,279.80V347.60" stroke="#141414" stroke-width="1.1"/>
<path d="M395.47,279.80H398.68" stroke="#141414" stroke-width="1.1"/>
<path d="M395.47,347.60H398.68" stroke="#141414" stroke-width="1.1"/>
<path d="M394.77,282.55L397.07,278.65L399.38,282.55Z" fill="#1b4f8e"/>
<path d="M394.77,304.95L397.07,301.05L399.38,304.95Z" fill="#1b4f8e"/>
<path d="M394.77,353.85L397.07,349.95L399.38,353.85Z" fill="#1b4f8e"/>
<path d="M404.53,398.00V403.00" stroke="#141414" stroke-width="1.1"/>
<path d="M402.93,398.00H406.13" stroke="#141414" stroke-width="1.1"/>
<rect x="402.33" y="398.40" width="4.4" height="4.4" fill="#35b844"/>
<rect x="402.33" y="400.40" width="4.4" height="4.4" fill="#35b844"/>
<path d="M411.98,384.80V403.00" stroke="#141414" stroke-width="1.1"/>
<path d="M410.38,384.80H413.58" stroke="#141414" stroke-width="1.1"/>
<path d="M409.78,378.30L414.18,382.70M414.18,378.30L409.78,382.70" stroke="#722896" stroke-width="1.0" fill="none"/>
<path d="M409.78,391.20L414.18,395.60M414.18,391.20L409.78,395.60" stroke="#722896" stroke-width="1.0" fill="none"/>
<path d="M409.78,393.70L414.18,398.10M414.18,393.70L409.78,398.10" stroke="#722896" stroke-width="1.0" fill="none"/>
<path d="M409.78,396.30L414.18,400.70M414.18,396.30L409.78,400.70" stroke="#722896" stroke-width="1.0" fill="none"/>
<path d="M409.78,399.40L414.18,403.80M414.18,399.40L409.78,403.80" stroke="#722896" stroke-width="1.0" fill="none"/>
<rect x="432.67" y="394.00" width="6.7" height="8.90" fill="#e68b9d"/>
<rect x="440.12" y="368.30" width="6.7" height="34.60" fill="#87a7c5"/>
<path d="M436.02,387.70V402.90" stroke="#141414" stroke-width="1.1"/>
<path d="M434.42,387.70H437.62" stroke="#141414" stroke-width="1.1"/>
<circle cx="436.02" cy="387.70" r="2.15" fill="#d3062c"/>
<circle cx="436.02" cy="395.40" r="2.15" fill="#d3062c"/>
<circle cx="436.02" cy="402.80" r="2.15" fill="#d3062c"/>
<path d="M443.47,353.10V381.90" stroke="#141414" stroke-width="1.1"/>
<path d="M441.87,353.10H445.07" stroke="#141414" stroke-width="1.1"/>
<path d="M441.87,381.90H445.07" stroke="#141414" stroke-width="1.1"/>
<path d="M441.17,349.15L443.47,345.25L445.77,349.15Z" fill="#1b4f8e"/>
<path d="M441.17,371.05L443.47,367.15L445.77,371.05Z" fill="#1b4f8e"/>
<path d="M441.17,377.75L443.47,373.85L445.77,377.75Z" fill="#1b4f8e"/>
<path d="M441.17,381.15L443.47,377.25L445.77,381.15Z" fill="#1b4f8e"/>
<rect x="448.73" y="400.70" width="4.4" height="4.4" fill="#35b844"/>
<path d="M456.18,400.70L460.57,405.10M460.57,400.70L456.18,405.10" stroke="#722896" stroke-width="1.0" fill="none"/>
<rect x="477.52" y="381.30" width="6.7" height="21.70" fill="#87a7c5"/>
<rect x="492.43" y="377.10" width="6.7" height="25.90" fill="#c4a9d6"/>
<circle cx="472.53" cy="402.80" r="2.15" fill="#d3062c"/>
<circle cx="474.32" cy="402.80" r="2.15" fill="#d3062c"/>
<path d="M480.88,361.50V403.00" stroke="#141414" stroke-width="1.1"/>
<path d="M479.27,361.50H482.48" stroke="#141414" stroke-width="1.1"/>
<path d="M478.57,367.95L480.88,364.05L483.18,367.95Z" fill="#1b4f8e"/>
<path d="M478.57,377.25L480.88,373.35L483.18,377.25Z" fill="#1b4f8e"/>
<path d="M478.57,403.95L480.88,400.05L483.18,403.95Z" fill="#1b4f8e"/>
<rect x="485.63" y="400.60" width="4.4" height="4.4" fill="#35b844"/>
<rect x="486.63" y="400.60" width="4.4" height="4.4" fill="#35b844"/>
<path d="M495.78,392.30V403.00" stroke="#141414" stroke-width="1.1"/>
<path d="M494.18,392.30H497.38" stroke="#141414" stroke-width="1.1"/>
<path d="M493.58,386.10L497.98,390.50M497.98,386.10L493.58,390.50" stroke="#722896" stroke-width="1.0" fill="none"/>
<path d="M493.58,398.70L497.98,403.10M497.98,398.70L493.58,403.10" stroke="#722896" stroke-width="1.0" fill="none"/>
<path d="M493.58,400.50L497.98,404.90M497.98,400.50L493.58,404.90" stroke="#722896" stroke-width="1.0" fill="none"/>
<path d="M364.70,403.40V405.60" stroke="#141414" stroke-width="1.0"/>
<path d="M400.80,403.40V405.60" stroke="#141414" stroke-width="1.0"/>
<path d="M447.20,403.40V405.60" stroke="#141414" stroke-width="1.0"/>
<path d="M484.60,403.40V405.60" stroke="#141414" stroke-width="1.0"/>
<text x="365.00" y="414.70" font-size="8" text-anchor="middle" >−</text>
<text x="401.00" y="414.30" font-size="8" text-anchor="middle" >+</text>
<text x="447.40" y="414.70" font-size="8" text-anchor="middle" >−</text>
<text x="484.60" y="414.30" font-size="8" text-anchor="middle" >+</text>
<path d="M349.6,416.7H417.0M432.7,416.7H500.4" stroke="#141414" stroke-width="1.1"/>
<text x="372.05" y="425.40" font-size="8.2" textLength="22.20" lengthAdjust="spacingAndGlyphs" >+CpG</text>
<text x="364.55" y="434.80" font-size="8.2" textLength="37.70" lengthAdjust="spacingAndGlyphs" >+Nigericin</text>
<text x="452.55" y="425.40" font-size="8.2" textLength="28.10" lengthAdjust="spacingAndGlyphs" >+TNF-α</text>
<text x="447.15" y="434.80" font-size="8.2" textLength="38.30" lengthAdjust="spacingAndGlyphs" >+Nigericin</text>
<path d="M353.70,234.45L356.00,230.55L358.30,234.45Z" fill="#1b4f8e"/>
<path d="M360.20,233.90V231.80H377.30V233.90" stroke="#141414" stroke-width="1.15" fill="none"/>
<path d="M379.40,230.30L383.80,234.70M383.80,230.30L379.40,234.70" stroke="#722896" stroke-width="1.0" fill="none"/>
<path d="M387.60,231.25L387.60,233.75M388.68,231.88L386.52,233.12M388.68,233.12L386.52,231.88" stroke="#141414" stroke-width="0.95" fill="none"/>
<path d="M391.30,231.25L391.30,233.75M392.38,231.88L390.22,233.12M392.38,233.12L390.22,231.88" stroke="#141414" stroke-width="0.95" fill="none"/>
<path d="M360.20,239.40V237.30H397.50V239.40" stroke="#141414" stroke-width="1.15" fill="none"/>
<path d="M399.50,240.25L401.80,236.35L404.10,240.25Z" fill="#1b4f8e"/>
<text x="406.35" y="239.80" font-size="7.3" textLength="10.10" lengthAdjust="spacingAndGlyphs" style="stroke-width:0.05px">n.s</text>
<path d="M360.20,245.10V243.00H410.90V245.10" stroke="#141414" stroke-width="1.15" fill="none"/>
<path d="M412.60,241.40L417.00,245.80M417.00,241.40L412.60,245.80" stroke="#722896" stroke-width="1.0" fill="none"/>
<path d="M422.00,242.35L422.00,244.85M423.08,242.97L420.92,244.22M423.08,244.22L420.92,242.97" stroke="#141414" stroke-width="0.95" fill="none"/>
<path d="M436.00,328.75L438.30,324.85L440.60,328.75Z" fill="#1b4f8e"/>
<path d="M442.40,328.20V326.10H459.70V328.20" stroke="#141414" stroke-width="1.15" fill="none"/>
<path d="M461.40,324.70L465.80,329.10M465.80,324.70L461.40,329.10" stroke="#722896" stroke-width="1.0" fill="none"/>
<path d="M470.10,325.65L470.10,328.15M471.18,326.27L469.02,327.52M471.18,327.52L469.02,326.27" stroke="#141414" stroke-width="0.95" fill="none"/>
<path d="M442.40,333.60V331.50H479.90V333.60" stroke="#141414" stroke-width="1.15" fill="none"/>
<path d="M481.50,334.55L483.80,330.65L486.10,334.55Z" fill="#1b4f8e"/>
<text x="488.65" y="334.10" font-size="7.3" textLength="10.10" lengthAdjust="spacingAndGlyphs" style="stroke-width:0.05px">n.s</text>
<path d="M442.40,339.40V337.30H493.50V339.40" stroke="#141414" stroke-width="1.15" fill="none"/>
<path d="M495.00,335.80L499.40,340.20M499.40,335.80L495.00,340.20" stroke="#722896" stroke-width="1.0" fill="none"/>
<path d="M504.00,336.75L504.00,339.25M505.08,337.38L502.92,338.62M505.08,338.62L502.92,337.38" stroke="#141414" stroke-width="0.95" fill="none"/>
<rect x="0.5" y="0.5" width="519" height="443" fill="none" stroke="#000" stroke-width="1.3"/>
</svg></body></html>
